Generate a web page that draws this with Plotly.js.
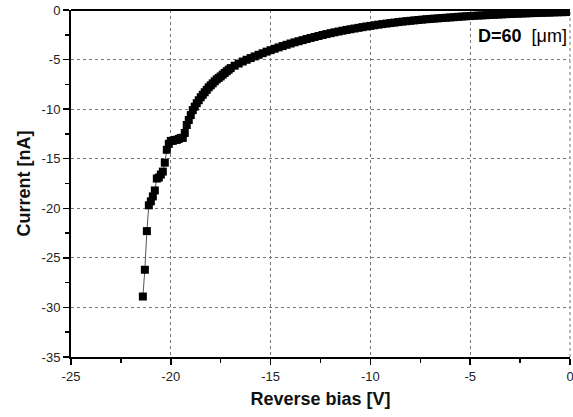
<!DOCTYPE html>
<html>
<head>
<meta charset="utf-8">
<script src="https://cdn.plot.ly/plotly-3.0.1.min.js"></script>
<style>html,body{margin:0;padding:0;background:#fff;}#chart{width:573px;height:417px;}</style>
</head>
<body>
<div id="chart"></div>
<script>
// Steep (breakdown) region, sparse points
const biasSteep = [-21.4,-21.3,-21.2,-21.1,-21.0,-20.9,-20.8,-20.7,-20.6,-20.5,-20.4,-20.3,-20.2,-20.1,-20.0,-19.9,-19.8,-19.7,-19.6,-19.5];
const currentSteep = [-28.9,-26.2,-22.3,-19.7,-19.3,-18.8,-18.2,-17.0,-16.9,-16.6,-16.3,-15.4,-14.1,-13.5,-13.2,-13.2,-13.1,-13.1,-13.0,-12.9];

// Knee region, 0.1 V steps
const biasKnee = [-19.4,-19.3,-19.2,-19.1,-19.0,-18.9,-18.8,-18.7,-18.6,-18.5,-18.4,-18.3,-18.2,-18.1,-18.0,-17.9,-17.8,-17.7,-17.6,-17.5,-17.4,-17.3,-17.2,-17.1,-17.0];
const currentKnee = [-12.9,-12.4,-11.6,-11.1,-10.6,-10.1,-9.75,-9.4,-9.1,-8.8,-8.55,-8.3,-8.05,-7.8,-7.6,-7.4,-7.2,-7.0,-6.85,-6.7,-6.52,-6.35,-6.18,-6.02,-5.86];

// Low-bias region, 0.2 V steps
const biasLow = [-16.8,-16.6,-16.4,-16.2,-16.0,-15.8,-15.6,-15.4,-15.2,-15.0,-14.8,-14.6,-14.4,-14.2,-14.0,-13.8,-13.6,-13.4,-13.2,-13.0,-12.8,-12.6,-12.4,-12.2,-12.0,-11.8,-11.6,-11.4,-11.2,-11.0,-10.8,-10.6,-10.4,-10.2,-10.0,-9.8,-9.6,-9.4,-9.2,-9.0,-8.8,-8.6,-8.4,-8.2,-8.0,-7.8,-7.6,-7.4,-7.2,-7.0,-6.8,-6.6,-6.4,-6.2,-6.0,-5.8,-5.6,-5.4,-5.2,-5.0,-4.8,-4.6,-4.4,-4.2,-4.0,-3.8,-3.6,-3.4,-3.2,-3.0,-2.8,-2.6,-2.4,-2.2,-2.0,-1.8,-1.6,-1.4,-1.2,-1.0,-0.8,-0.6,-0.4,-0.2,0.0];
const currentLow = [-5.62,-5.40,-5.20,-5.02,-4.85,-4.68,-4.52,-4.36,-4.20,-4.05,-3.91,-3.77,-3.64,-3.51,-3.38,-3.26,-3.15,-3.04,-2.93,-2.82,-2.72,-2.62,-2.52,-2.43,-2.34,-2.25,-2.17,-2.09,-2.01,-1.94,-1.87,-1.80,-1.73,-1.66,-1.60,-1.54,-1.48,-1.42,-1.37,-1.32,-1.27,-1.22,-1.17,-1.13,-1.09,-1.05,-1.01,-0.97,-0.93,-0.90,-0.87,-0.84,-0.81,-0.78,-0.75,-0.72,-0.69,-0.66,-0.63,-0.61,-0.58,-0.56,-0.54,-0.52,-0.50,-0.48,-0.46,-0.44,-0.42,-0.40,-0.38,-0.37,-0.35,-0.34,-0.32,-0.31,-0.29,-0.28,-0.27,-0.26,-0.24,-0.23,-0.22,-0.21,-0.20];

const xTicks = [-25,-20,-15,-10,-5,0];
const yTicks = [0,-5,-10,-15,-20,-25,-30,-35];
const labelText = '<b>D=60</b>  [μm]';

const x = biasSteep.concat(biasKnee, biasLow);
const y = currentSteep.concat(currentKnee, currentLow);

const trace = {
  x: x, y: y, type: 'scatter', mode: 'lines+markers',
  line: {color: '#555', width: 1},
  marker: {symbol: 'square', size: 8, color: '#000', line: {width: 0}},
  hoverinfo: 'skip', showlegend: false, cliponaxis: true
};

const tickFont = {family: 'Liberation Sans, Arial, sans-serif', size: 13, color: '#222'};
const titleFont = {family: 'Liberation Sans, Arial, sans-serif', size: 18, color: '#111', weight: 'bold'};

const layout = {
  width: 573, height: 417,
  margin: {l: 71, r: 3, t: 10, b: 60},
  paper_bgcolor: '#fff', plot_bgcolor: '#fff',
  xaxis: {
    range: [-25, 0], tickmode: 'array', tickvals: xTicks, ticktext: xTicks.map(String),
    ticks: 'outside', ticklen: 6, tickwidth: 1.5, tickcolor: '#000', ticklabeloverflow: 'allow',
    minor: {dtick: 2.5, tick0: 0, ticks: 'outside', ticklen: 4, tickwidth: 1.5, tickcolor: '#000', showgrid: false},
    showline: true, linecolor: '#000', linewidth: 2, mirror: false,
    showgrid: true, gridcolor: '#777', griddash: 'dot', gridwidth: 1,
    zeroline: false, tickfont: tickFont,
    title: {text: '<b>Reverse bias [V]</b>', font: titleFont, standoff: 10}
  },
  yaxis: {
    range: [-35, 0], tickmode: 'array', tickvals: yTicks, ticktext: yTicks.map(String),
    ticks: 'outside', ticklen: 6, tickwidth: 1.5, tickcolor: '#000', ticklabeloverflow: 'allow',
    minor: {dtick: 2.5, tick0: 0, ticks: 'outside', ticklen: 4, tickwidth: 1.5, tickcolor: '#000', showgrid: false},
    showline: true, linecolor: '#000', linewidth: 2, mirror: false,
    showgrid: true, gridcolor: '#777', griddash: 'dot', gridwidth: 1,
    zeroline: false, tickfont: tickFont,
    title: {text: '<b>Current [nA]</b>', font: titleFont, standoff: 6}
  },
  shapes: [
    {type: 'line', xref: 'paper', yref: 'paper', x0: 0, x1: 1, y0: 1, y1: 1, line: {color: '#000', width: 2}},
    {type: 'line', xref: 'paper', yref: 'paper', x0: 1, x1: 1, y0: 0, y1: 1, line: {color: '#777', width: 1, dash: 'dot'}, layer: 'below'}
  ],
  annotations: [
    {x: 0.997, y: 0.925, xref: 'paper', yref: 'paper', xanchor: 'right', yanchor: 'middle',
     text: labelText, showarrow: false, bgcolor: '#fff',
     font: {family: 'Liberation Sans, Arial, sans-serif', size: 18, color: '#000'}}
  ]
};

Plotly.newPlot('chart', [trace], layout, {staticPlot: true, displayModeBar: false});
</script>
</body>
</html>
